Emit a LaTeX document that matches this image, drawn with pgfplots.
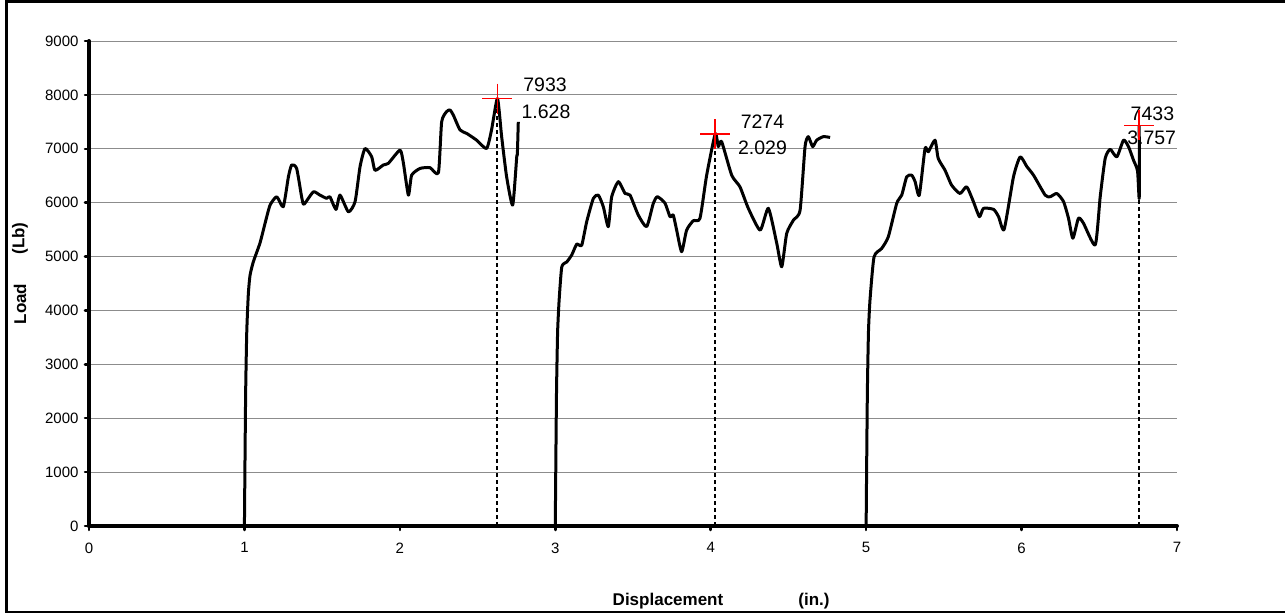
\documentclass[border=0pt]{standalone}
\usepackage{fontspec}
\setmainfont{Liberation Sans}
\usepackage{pgfplots}
\pgfplotsset{compat=1.18}
\begin{document}
\begin{tikzpicture}
\begin{axis}[
  scale only axis, width=1088pt, height=485pt,
  at={(0pt,0pt)}, anchor=origin,
  xmin=0, xmax=7, ymin=0, ymax=9000,
  xtick={0,1,...,7}, ytick={0,1000,...,9000},
  axis x line*=bottom, axis y line*=left,
  axis line style={line width=4pt, line cap=round, -},
  ymajorgrids, grid style={black!45, line width=1pt},
  major tick length=4pt, tick align=outside,
  tick style={black, line width=2.5pt, line cap=round},
  tick label style={font=\fontsize{15}{17}\selectfont},
  /pgf/number format/assume math mode=true,
  scaled y ticks=false,
  yticklabel style={/pgf/number format/1000 sep={}, xshift=-3pt},
  xticklabel style={yshift=-9pt},
  clip=false,
]
% dashed markers
\addplot[black, line width=2pt, dash pattern=on 4pt off 3pt] coordinates {(2.628,0) (2.628,7933)};
\addplot[black, line width=2pt, dash pattern=on 4pt off 3pt] coordinates {(4.029,0) (4.029,7274)};
\addplot[black, line width=2pt, dash pattern=on 4pt off 3pt] coordinates {(6.757,0) (6.757,7433)};
% curve 1
\addplot[black, line width=3pt, line join=round, smooth, tension=0.35] coordinates {
(1.000,0) (1.003,1000) (1.008,2500) (1.015,3600) (1.025,4300) (1.036,4650)
(1.057,4900) (1.100,5250) (1.133,5620) (1.165,5955) (1.208,6110) (1.250,5925)
(1.283,6480) (1.304,6700) (1.336,6635) (1.368,6110) (1.383,5970) (1.443,6200)
(1.486,6140) (1.529,6080) (1.550,6110) (1.589,5875) (1.615,6140) (1.669,5830)
(1.712,6020) (1.744,6670) (1.776,7005) (1.819,6850) (1.840,6600) (1.894,6700)
(1.926,6730) (2.001,6975) (2.023,6730) (2.055,6140) (2.076,6510) (2.130,6635)
(2.194,6650) (2.248,6555) (2.269,7500) (2.301,7690) (2.323,7720) (2.344,7625)
(2.387,7350) (2.430,7285) (2.494,7160) (2.558,7005) (2.590,7350) (2.628,7933)
(2.655,7225) (2.687,6480) (2.726,5955) (2.752,6850) (2.756,6900) (2.762,7500)
};
% curve 2
\addplot[black, line width=3pt, line join=round, smooth, tension=0.35] coordinates {
(3.000,0) (3.003,1000) (3.008,2500) (3.015,3600) (3.025,4200) (3.042,4810)
(3.074,4900) (3.106,5030) (3.138,5230) (3.170,5210) (3.202,5645) (3.245,6080)
(3.277,6140) (3.309,5925) (3.341,5555) (3.363,6110) (3.406,6390) (3.449,6170)
(3.481,6140) (3.534,5770) (3.588,5555) (3.631,5990) (3.657,6110) (3.706,5990)
(3.738,5740) (3.759,5770) (3.781,5490) (3.813,5090) (3.845,5490) (3.888,5665)
(3.931,5710) (3.974,6510) (4.029,7274) (4.049,7040) (4.070,7135) (4.135,6510)
(4.188,6295) (4.242,5895) (4.318,5490) (4.371,5895) (4.425,5245) (4.457,4810)
(4.489,5430) (4.532,5675) (4.575,5860) (4.607,7040) (4.628,7225) (4.656,7040)
(4.682,7160) (4.725,7225) (4.768,7210)
};
% curve 3
\addplot[black, line width=3pt, line join=round, smooth, tension=0.35] coordinates {
(5.000,0) (5.003,1000) (5.008,2500) (5.015,3600) (5.025,4200) (5.051,4995)
(5.100,5150) (5.143,5370) (5.197,5990) (5.229,6140) (5.261,6480) (5.293,6510)
(5.315,6390) (5.342,6140) (5.379,7005) (5.400,6945) (5.443,7160) (5.464,6820)
(5.508,6600) (5.550,6325) (5.604,6170) (5.647,6295) (5.690,6020) (5.729,5740)
(5.755,5895) (5.820,5875) (5.852,5740) (5.888,5505) (5.948,6480) (5.991,6850)
(6.034,6670) (6.077,6510) (6.152,6140) (6.184,6110) (6.227,6170) (6.270,6020)
(6.302,5710) (6.330,5340) (6.366,5710) (6.398,5620) (6.474,5215) (6.506,6110)
(6.538,6820) (6.570,6990) (6.613,6850) (6.656,7160) (6.688,7040) (6.720,6790)
(6.746,6590) (6.757,6080) (6.757,7433)
};
% peak markers
\addplot[red, only marks, mark=+, mark size=15pt, mark options={red, line width=1.6pt}] coordinates {(2.628,7933) (4.029,7274) (6.757,7433)};
% labels
\node[font=\fontsize{19.5}{22}\selectfont, inner sep=0pt] at (axis cs:2.934,8184) {7933};
\node[font=\fontsize{19.5}{22}\selectfont, inner sep=0pt] at (axis cs:2.940,7683) {1.628};
\node[font=\fontsize{19.5}{22}\selectfont, inner sep=0pt] at (axis cs:4.333,7503) {7274};
\node[font=\fontsize{19.5}{22}\selectfont, inner sep=0pt] at (axis cs:4.333,7024) {2.029};
\node[font=\fontsize{19.5}{22}\selectfont, inner sep=0pt] at (axis cs:6.842,7655) {7433};
\node[font=\fontsize{19.5}{22}\selectfont, inner sep=0pt] at (axis cs:6.837,7209) {3.757};
\end{axis}
% axis titles
\node[font=\bfseries\fontsize{17}{19}\selectfont, inner sep=0pt] at (579pt,-75pt) {Displacement};
\node[font=\bfseries\fontsize{17}{19}\selectfont, inner sep=0pt] at (725pt,-75pt) {(in.)};
\node[font=\bfseries\fontsize{17}{19}\selectfont, inner sep=0pt, rotate=90] at (-69pt,222pt) {Load};
\node[font=\bfseries\fontsize{17}{19}\selectfont, inner sep=0pt, rotate=90] at (-69pt,287.5pt) {(Lb)};
% frame
\draw[line width=3pt] (-82.5pt,-86pt) rectangle (1205pt,524.5pt);
\pgfresetboundingbox
\useasboundingbox (-89pt,-87pt) rectangle (1196pt,526pt);
\end{tikzpicture}
\end{document}
